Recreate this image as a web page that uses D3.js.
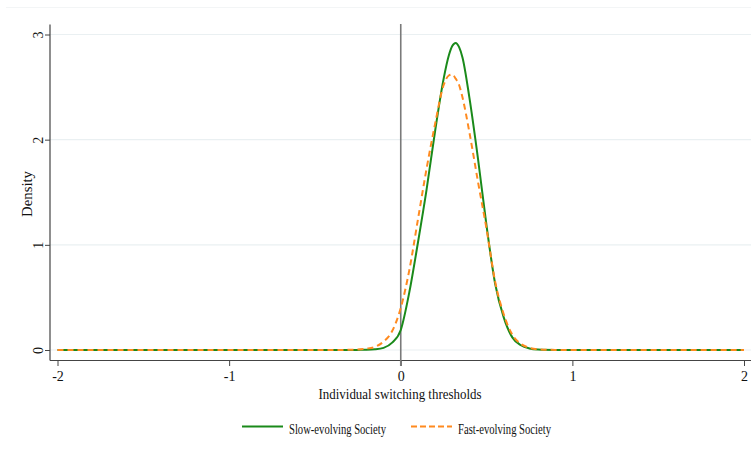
<!DOCTYPE html>
<html><head><meta charset="utf-8">
<script src="https://cdn.jsdelivr.net/npm/d3@7"></script>
<style>html,body{margin:0;padding:0;background:#fff;}svg{display:block;}</style>
</head><body><div id="chart"></div>
<script>
const xValues = [-2, -1, -0.4, -0.3, -0.25, -0.2, -0.15, -0.1, -0.05, 0, 0.05, 0.1, 0.15, 0.2, 0.25, 0.28, 0.3, 0.32, 0.34, 0.36, 0.4, 0.45, 0.5, 0.55, 0.6, 0.65, 0.7, 0.75, 0.8, 0.9, 1, 2];
const slowDensity = [0, 0, 0, 0, 0.001, 0.002, 0.006, 0.02, 0.07, 0.19, 0.55, 1.02, 1.52, 2.08, 2.58, 2.80, 2.89, 2.92, 2.88, 2.78, 2.40, 1.82, 1.18, 0.63, 0.31, 0.12, 0.045, 0.015, 0.005, 0.001, 0, 0];
const fastDensity = [0, 0, 0.0005, 0.002, 0.005, 0.013, 0.03, 0.08, 0.18, 0.40, 0.76, 1.24, 1.72, 2.15, 2.52, 2.61, 2.62, 2.58, 2.52, 2.40, 2.07, 1.60, 1.15, 0.65, 0.34, 0.145, 0.058, 0.021, 0.007, 0.001, 0, 0];
const xTicks = [-2, -1, 0, 1, 2];
const yTicks = [0, 1, 2, 3];
const seriesNames = ["Slow-evolving Society", "Fast-evolving Society"];
const seriesColors = ["#1a8a1a", "#ff8a1f"];

const W = 751, H = 460;
const svg = d3.select("#chart").append("svg").attr("width", W).attr("height", H);
const font = "'Liberation Serif', 'Times New Roman', serif";
const fmt = d => (d < 0 ? "-" + Math.abs(d) : String(d));

const x = d3.scaleLinear().domain([-2, 2]).range([57.5, 744]);
const y = d3.scaleLinear().domain([0, 3]).range([350, 34.5]);

// faint top border line
svg.append("line").attr("x1", 6).attr("x2", W).attr("y1", 7.5).attr("y2", 7.5)
  .attr("stroke", "#f3f5f6").attr("stroke-width", 1);

// gridlines
svg.append("g").selectAll("line").data(yTicks).join("line")
  .attr("x1", 50).attr("x2", W).attr("y1", d => y(d)).attr("y2", d => y(d))
  .attr("stroke", "#eaf0f2").attr("stroke-width", 1.2);

// y axis
const yAxis = svg.append("g").attr("transform", "translate(50,0)")
  .call(d3.axisLeft(y).tickValues(yTicks).tickSize(5).tickFormat(fmt));
yAxis.select(".domain").remove();
yAxis.selectAll(".tick line").attr("stroke", "#444");
yAxis.selectAll(".tick text").attr("font-family", font).attr("font-size", 14).attr("fill", "#111")
  .attr("text-anchor", "middle")
  .attr("transform", "translate(-12,0) rotate(-90)").attr("x", 0).attr("y", 0).attr("dy", "0.35em");
svg.append("line").attr("x1", 50).attr("x2", 50).attr("y1", 24.5).attr("y2", 360.5)
  .attr("stroke", "#444").attr("stroke-width", 1.2);

// x axis
const xAxis = svg.append("g").attr("transform", "translate(0,360)")
  .call(d3.axisBottom(x).tickValues(xTicks).tickSize(6).tickFormat(fmt));
xAxis.select(".domain").remove();
xAxis.selectAll(".tick line").attr("stroke", "#444");
xAxis.selectAll(".tick text").attr("font-family", font).attr("font-size", 14).attr("fill", "#111").attr("y", 11);
svg.append("line").attr("x1", 50).attr("x2", W).attr("y1", 360.5).attr("y2", 360.5)
  .attr("stroke", "#444").attr("stroke-width", 1.2);

// axis titles
svg.append("text").attr("transform", "translate(32,194) rotate(-90)")
  .attr("text-anchor", "middle").attr("font-family", font).attr("font-size", 14).attr("fill", "#111")
  .attr("textLength", 46).attr("lengthAdjust", "spacingAndGlyphs")
  .text("Density");
svg.append("text").attr("x", 400).attr("y", 399).attr("text-anchor", "middle")
  .attr("font-family", font).attr("font-size", 14).attr("fill", "#111")
  .attr("textLength", 163).attr("lengthAdjust", "spacingAndGlyphs")
  .text("Individual switching thresholds");

// vertical reference line at 0
svg.append("line").attr("x1", x(0)).attr("x2", x(0)).attr("y1", 24).attr("y2", 366)
  .attr("stroke", "#7a7a7a").attr("stroke-width", 1.6);

// curves
const line = d3.line().x(d => x(d[0])).y(d => y(d[1])).curve(d3.curveMonotoneX);
const slowData = xValues.map((v, i) => [v, slowDensity[i]]);
const fastData = xValues.map((v, i) => [v, fastDensity[i]]);
svg.append("path").datum(slowData).attr("d", line).attr("fill", "none")
  .attr("stroke", seriesColors[0]).attr("stroke-width", 2);
svg.append("path").datum(fastData).attr("d", line).attr("fill", "none")
  .attr("stroke", seriesColors[1]).attr("stroke-width", 2).attr("stroke-dasharray", "6,4");

// legend
const legend = [
  {name: seriesNames[0], color: seriesColors[0], dash: null, x1: 242, tx: 289, w: 97},
  {name: seriesNames[1], color: seriesColors[1], dash: "6,3", x1: 411, tx: 458, w: 93}
];
legend.forEach(l => {
  svg.append("line").attr("x1", l.x1).attr("x2", l.x1 + 41).attr("y1", 426.5).attr("y2", 426.5)
    .attr("stroke", l.color).attr("stroke-width", 2).attr("stroke-dasharray", l.dash);
  svg.append("text").attr("x", l.tx).attr("y", 434).attr("font-family", font).attr("font-size", 15)
    .attr("textLength", l.w).attr("lengthAdjust", "spacingAndGlyphs")
    .attr("fill", "#111").text(l.name);
});
</script></body></html>
